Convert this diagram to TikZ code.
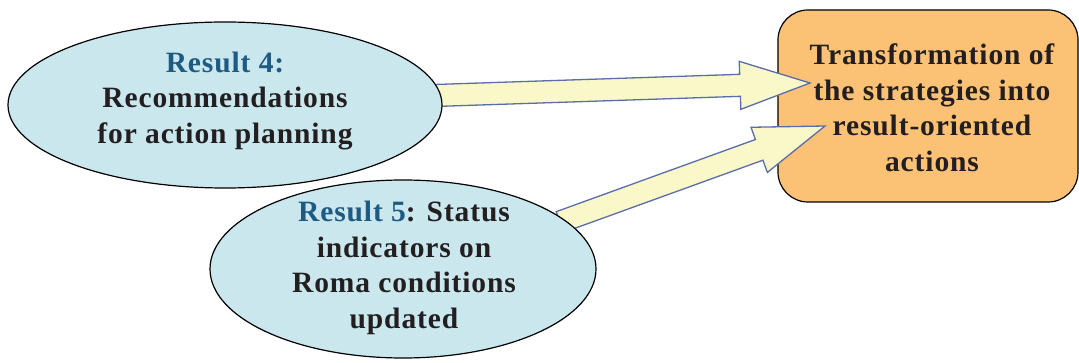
\documentclass[tikz,border=0pt]{standalone}
\usepackage{fontspec}
\setmainfont{Liberation Serif}
\usetikzlibrary{calc,shapes.geometric}
\definecolor{ellfill}{HTML}{CBE7EE}
\definecolor{boxfill}{HTML}{FBC174}
\definecolor{arrfill}{HTML}{FAF8C9}
\definecolor{arrline}{HTML}{5A6DA8}
\definecolor{rescol}{HTML}{1E5B83}
\definecolor{txtcol}{HTML}{231F20}
\newcommand\mytextfont{\bfseries\fontsize{29.5}{35.5}\selectfont\addfontfeatures{LetterSpace=3}}
\newcommand\blockarrow[2]{%
  \path ($(#2)!70pt!(#1)$) coordinate (hb);
  \draw[blockarr] ($(#1)!11pt!90:(#2)$) -- ($(hb)!11pt!90:(#2)$) -- ($(hb)!24pt!90:(#2)$) -- (#2)
     -- ($(hb)!24pt!-90:(#2)$) -- ($(hb)!11pt!-90:(#2)$) -- ($(#1)!11pt!-90:(#2)$) -- cycle;}
\tikzset{
  ell/.style={ellipse, draw=black, line width=1.2pt, fill=ellfill, inner sep=0pt},
  resbox/.style={rectangle, rounded corners=30pt, draw=black, line width=1.2pt, fill=boxfill, inner sep=0pt},
  blockarr/.style={draw=arrline, fill=arrfill, line width=1.3pt, line join=miter},
  lbl/.style={align=center, text=txtcol, font=\mytextfont, inner sep=0pt},
}
\begin{document}
\begin{tikzpicture}[x=1pt,y=1pt]
\useasboundingbox (0,0) rectangle (1079,-363);
% box
\node[resbox, minimum width=300pt, minimum height=192pt] (box) at (928,-106) {};
\node[lbl] (boxt) at (932,-108) {Transformation of\\the strategies into\\result-oriented\\actions};
% arrow end coordinates
\coordinate (a1s) at (420,-96);
\coordinate (a1e) at (810,-83);
\coordinate (a2s) at (560,-222);
\coordinate (a2e) at (825,-126);
\blockarrow{a1s}{a1e}
\blockarrow{a2s}{a2e}
% ellipses
\node[ell, minimum width=434pt, minimum height=166pt] (e1) at (225,-105) {};
\node[lbl] (e1t) at (225,-101) {{\color{rescol}Result 4:}\\Recommendations\\for action planning};
\node[ell, minimum width=386pt, minimum height=178pt] (e2) at (403,-269) {};
\node[lbl] (e2t) at (404,-268) {{\color{rescol}Result 5}: Status\\indicators on\\Roma conditions\\updated};
\end{tikzpicture}
\end{document}
